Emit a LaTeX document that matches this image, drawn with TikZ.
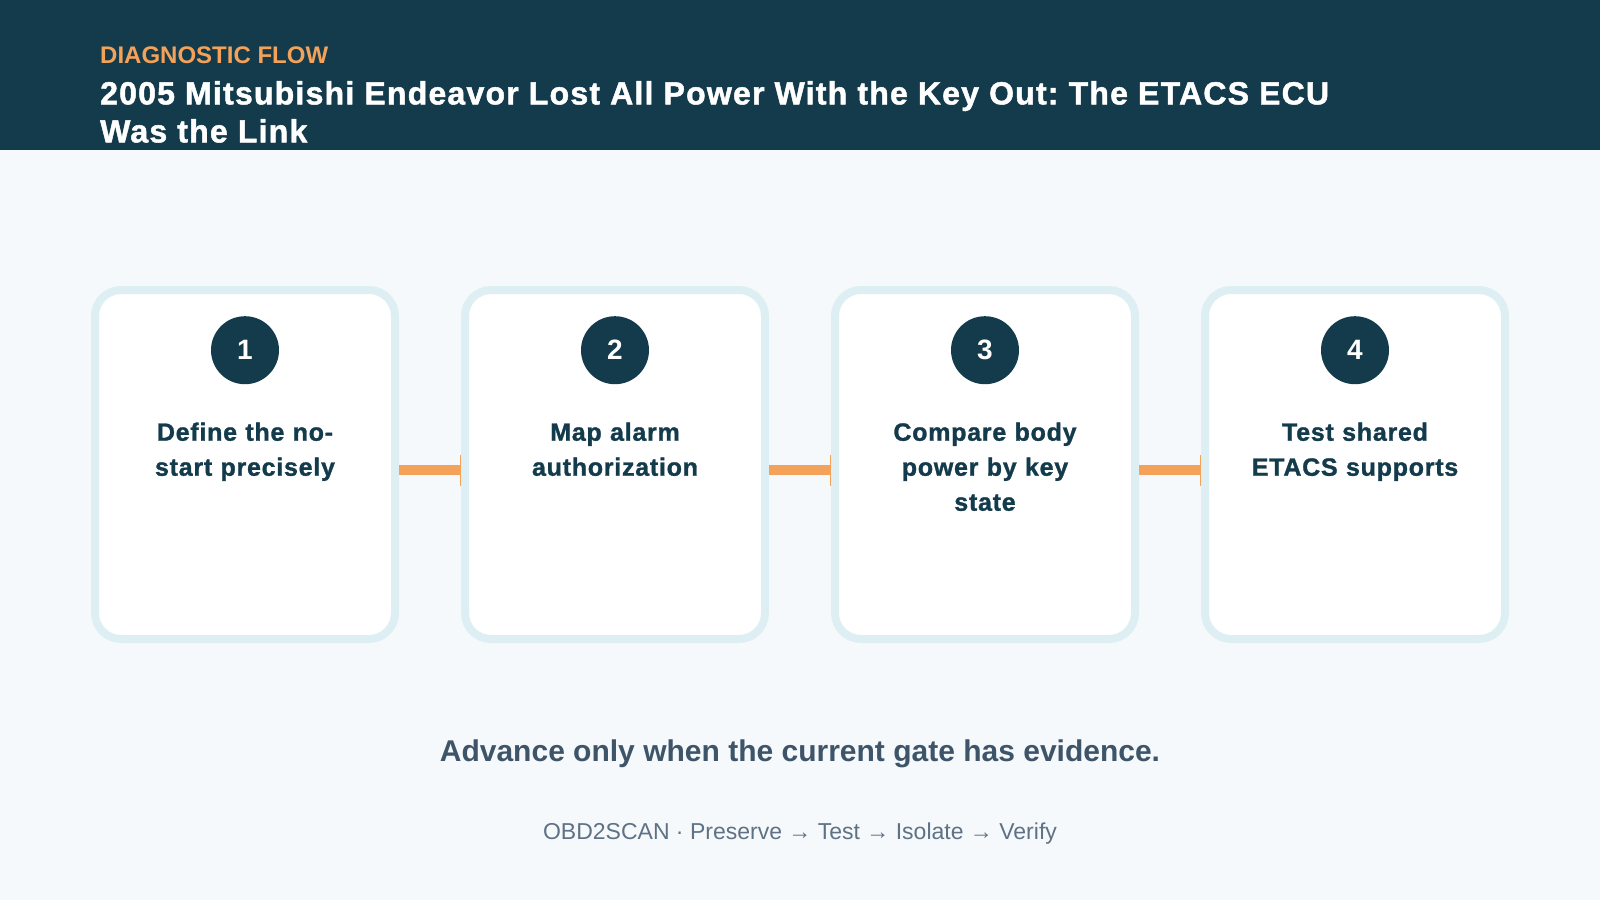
\documentclass[tikz,border=0pt]{standalone}
\usepackage{fontspec}
\setmainfont{Liberation Sans}
\usetikzlibrary{positioning, arrows.meta}
\frenchspacing

\definecolor{navy}{HTML}{133B4C}
\definecolor{flowamber}{HTML}{F4A259}
\definecolor{pagebg}{HTML}{F5F9FC}
\definecolor{cardedge}{HTML}{DDEFF3}
\definecolor{slate}{HTML}{3E5468}
\definecolor{greyblue}{HTML}{5F7184}

\begin{document}
\begin{tikzpicture}[x=1pt, y=-1pt, node distance=62pt]
	\tikzstyle{card} = [rectangle, draw=cardedge, line width=8pt, fill=white, rounded corners=26pt, minimum width=300pt, minimum height=349pt]
	\tikzstyle{badge} = [circle, fill=navy, text=white, minimum size=68pt, inner sep=0pt, font=\fontsize{28}{32}\selectfont\bfseries]
	\tikzstyle{steptext} = [text=navy, text width=260pt, align=center, inner sep=0pt, font=\fontsize{25}{35}\selectfont\bfseries\addfontfeatures{LetterSpace=3, FakeBold=1.2}]
	\tikzstyle{link} = [line width=10pt, draw=flowamber, -{Bar[width=31pt, line width=1.5pt]}]

	% page and header band
	\fill[pagebg] (0,0) rectangle (1600,900);
	\fill[navy] (0,0) rectangle (1600,150);
	\useasboundingbox (0,0) rectangle (1600,900);

	\node [anchor=base west, inner sep=0pt, text=flowamber, font=\fontsize{24}{28}\selectfont\bfseries] (kicker) at (100,63) {DIAGNOSTIC FLOW};
	\node [anchor=north west, inner sep=0pt, text=white, align=left, font=\fontsize{32}{38}\selectfont\bfseries\addfontfeatures{LetterSpace=3.8, FakeBold=1.5}] (title) at (100,81) {2005 Mitsubishi Endeavor Lost All Power With the Key Out: The ETACS ECU\\Was the Link};

	% cards
	\node [card] (card1) at (245,464.5) {};
	\node [card, right=of card1] (card2) {};
	\node [card, right=of card2] (card3) {};
	\node [card, right=of card3] (card4) {};

	\node [badge, below=30pt of card1.north] (badge1) {1};
	\node [badge, below=30pt of card2.north] (badge2) {2};
	\node [badge, below=30pt of card3.north] (badge3) {3};
	\node [badge, below=30pt of card4.north] (badge4) {4};

	\node [steptext, below=38pt of badge1] (step1) {Define the no-\\start precisely};
	\node [steptext, below=38pt of badge2] (step2) {Map alarm\\authorization};
	\node [steptext, below=38pt of badge3] (step3) {Compare body\\power by key\\state};
	\node [steptext, below=38pt of badge4] (step4) {Test shared\\ETACS supports};

	\draw [link] ([yshift=-5.5pt]card1.east) -- ([yshift=-5.5pt]card2.west);
	\draw [link] ([yshift=-5.5pt]card2.east) -- ([yshift=-5.5pt]card3.west);
	\draw [link] ([yshift=-5.5pt]card3.east) -- ([yshift=-5.5pt]card4.west);

	% footer
	\node [anchor=base, inner sep=0pt, text=slate, font=\fontsize{30}{36}\selectfont\bfseries] (gate) at (800,761) {Advance only when the current gate has evidence.};
	\node [anchor=base, inner sep=0pt, text=greyblue, font=\fontsize{23}{27}\selectfont] (brand) at (800,839) {OBD2SCAN · Preserve → Test → Isolate → Verify};
\end{tikzpicture}
\end{document}
